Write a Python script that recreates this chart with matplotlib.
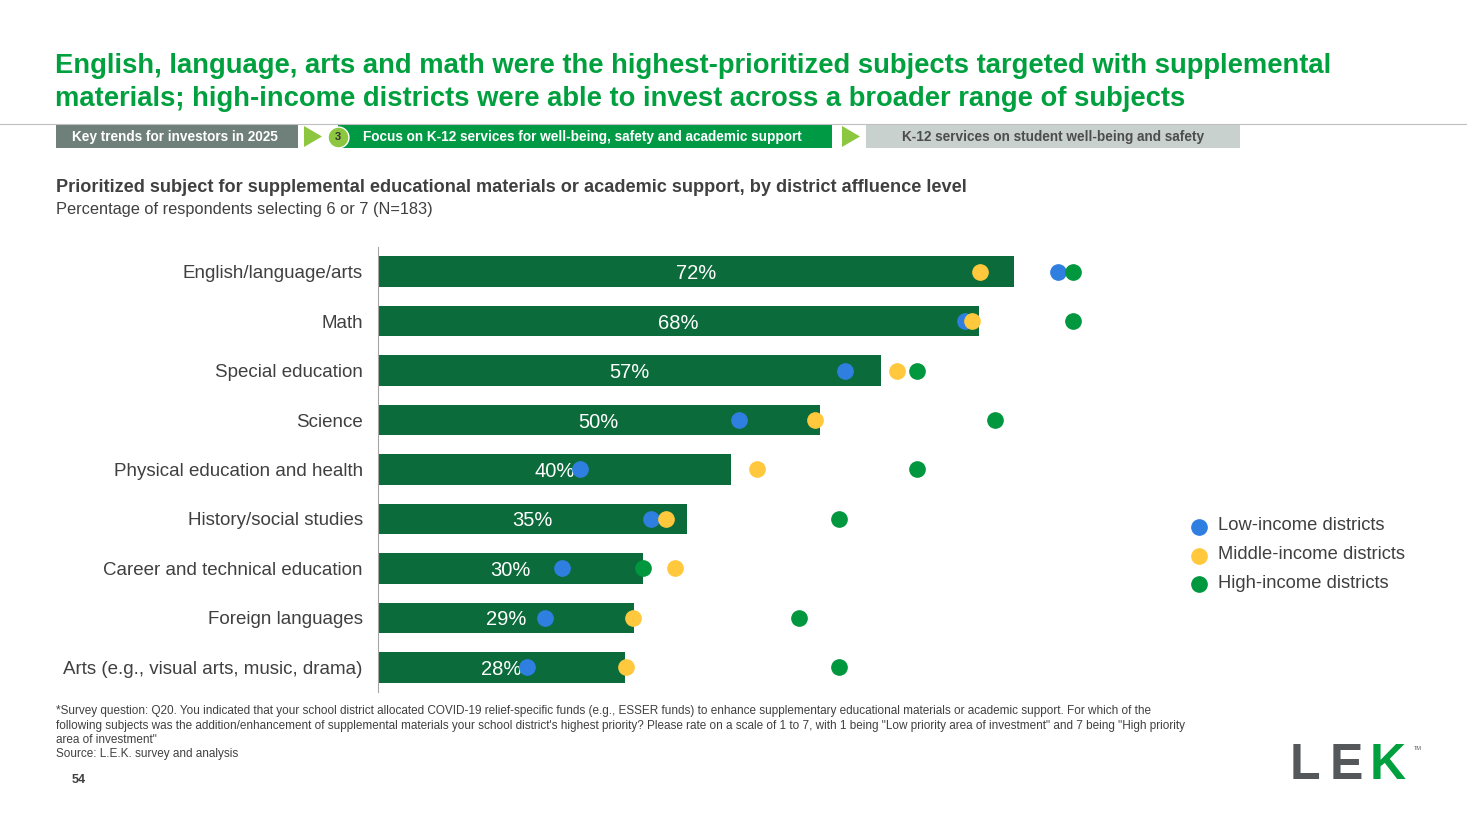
import matplotlib.pyplot as plt
from matplotlib.patches import Rectangle, Polygon

plt.rcParams['font.family'] = ['Liberation Sans', 'DejaVu Sans']

subjects = ["English/language/arts", "Math", "Special education", "Science",
            "Physical education and health", "History/social studies",
            "Career and technical education", "Foreign languages",
            "Arts (e.g., visual arts, music, drama)"]
overall = [72, 68, 57, 50, 40, 35, 30, 29, 28]
low = [77.0, 66.4, 52.9, 40.9, 22.9, 30.9, 20.8, 18.9, 16.9]
middle = [68.2, 67.2, 58.8, 49.5, 42.9, 32.6, 33.6, 28.9, 28.1]
high = [78.7, 78.7, 61.0, 69.9, 61.0, 52.2, 30.0, 47.7, 52.2]

BAR = "#0B6B3A"
TITLE = "#00A03E"
BLUE = "#2F7FE0"
YELLOW = "#FFC83D"
GREEN = "#00973F"

W, H = 1467, 825
fig = plt.figure(figsize=(W / 100, H / 100), dpi=100)

def fx(px):
    return px / W

def fy(py):
    return 1 - py / H

# title
fig.text(fx(55), fy(66), "English, language, arts and math were the highest-prioritized subjects targeted with supplemental",
         color=TITLE, fontsize=19.7, fontweight="bold", va="center")
fig.text(fx(55), fy(99), "materials; high-income districts were able to invest across a broader range of subjects",
         color=TITLE, fontsize=19.7, fontweight="bold", va="center")
fig.add_artist(plt.Line2D([0, 1], [fy(124), fy(124)], color="#BFBFBF", lw=0.8))

# breadcrumb bands
def box(x0, x1, color):
    fig.add_artist(Rectangle((fx(x0), fy(148)), fx(x1 - x0), fy(125) - fy(148),
                             transform=fig.transFigure, color=color, lw=0))

def tri(x0, x1):
    fig.add_artist(Polygon([(fx(x0), fy(126)), (fx(x1), fy(136.5)), (fx(x0), fy(147))],
                           closed=True, transform=fig.transFigure, color="#8DC63F", lw=0))

box(56, 298, "#6F7F7A")
fig.text(fx(72), fy(136.5), "Key trends for investors in 2025", color="white", fontsize=9.8,
         fontweight="bold", va="center")
tri(304, 322)
box(338, 832, "#009A44")
fig.add_artist(plt.Line2D([fx(338)], [fy(136.5)], marker="o", ms=15, color="#8DC63F",
                          mec="white", mew=1, ls="none"))
fig.text(fx(338), fy(136.5), "3", color="#333333", fontsize=8, fontweight="bold",
         ha="center", va="center")
fig.text(fx(363), fy(136.5), "Focus on K-12 services for well-being, safety and academic support",
         color="white", fontsize=9.8, fontweight="bold", va="center")
tri(842, 860)
box(866, 1240, "#C9D1CF")
fig.text(fx(1053), fy(136.5), "K-12 services on student well-being and safety", color="#4D4D4D",
         fontsize=9.8, fontweight="bold", va="center", ha="center")

# chart heading
fig.text(fx(56), fy(188), "Prioritized subject for supplemental educational materials or academic support, by district affluence level",
         color="#404040", fontsize=13.1, fontweight="bold", va="center")
fig.text(fx(56), fy(209), "Percentage of respondents selecting 6 or 7 (N=183)", color="#404040",
         fontsize=11.8, va="center")

# main axes
ax = fig.add_axes([fx(378), fy(692), fx(1150 - 378), fy(247) - fy(692)])
y = list(range(len(subjects)))
ax.barh(y, overall, height=0.62, color=BAR, zorder=1)
for yi, v in zip(y, overall):
    ax.text(v / 2, yi + 0.04, f"{v}%", color="white", fontsize=14.5, ha="center", va="center", zorder=2)
ms = 11
ax.plot(low, y, "o", color=BLUE, ms=ms, ls="none", zorder=3, label="Low-income districts")
ax.plot(high, y, "o", color=GREEN, ms=ms, ls="none", zorder=4, label="High-income districts")
ax.plot(middle, y, "o", color=YELLOW, ms=ms, ls="none", zorder=5, label="Middle-income districts")
ax.set_xlim(0, 87.4)
ax.set_ylim(8.5, -0.5)
ax.set_yticks(y)
ax.set_yticklabels(subjects, fontsize=13.5, color="#404040")
ax.tick_params(axis="y", length=0, pad=11)
ax.set_xticks([])
for s in ["top", "right", "bottom"]:
    ax.spines[s].set_visible(False)
ax.spines["left"].set_color("#A6A6A6")

# legend
for i, (lab, c) in enumerate([("Low-income districts", BLUE), ("Middle-income districts", YELLOW),
                              ("High-income districts", GREEN)]):
    py = 527 + i * 28.5
    fig.add_artist(plt.Line2D([fx(1199)], [fy(py)], marker="o", color=c, ms=11, ls="none"))
    fig.text(fx(1218), fy(py - 1), lab, color="#404040", fontsize=13.2, va="center")

# footnotes
notes = ['*Survey question: Q20. You indicated that your school district allocated COVID-19 relief-specific funds (e.g., ESSER funds) to enhance supplementary educational materials or academic support. For which of the',
         'following subjects was the addition/enhancement of supplemental materials your school district\'s highest priority? Please rate on a scale of 1 to 7, with 1 being "Low priority area of investment" and 7 being "High priority',
         'area of investment"',
         'Source: L.E.K. survey and analysis']
for i, n in enumerate(notes):
    fig.text(fx(56), fy(711 + i * 14.5), n, color="#404040", fontsize=8.5, va="center")
fig.text(fx(72), fy(780), "54", color="#404040", fontsize=9, fontweight="bold", va="center")

# logo
fig.text(fx(1290), fy(766), "L", color="#54585A", fontsize=36, fontweight="bold", va="center")
fig.text(fx(1330), fy(766), "E", color="#54585A", fontsize=36, fontweight="bold", va="center")
fig.text(fx(1370), fy(766), "K", color="#00A03E", fontsize=36, fontweight="bold", va="center")
fig.text(fx(1414), fy(748), "TM", color="#54585A", fontsize=4, va="center")

fig.savefig("out.png", dpi=100)
